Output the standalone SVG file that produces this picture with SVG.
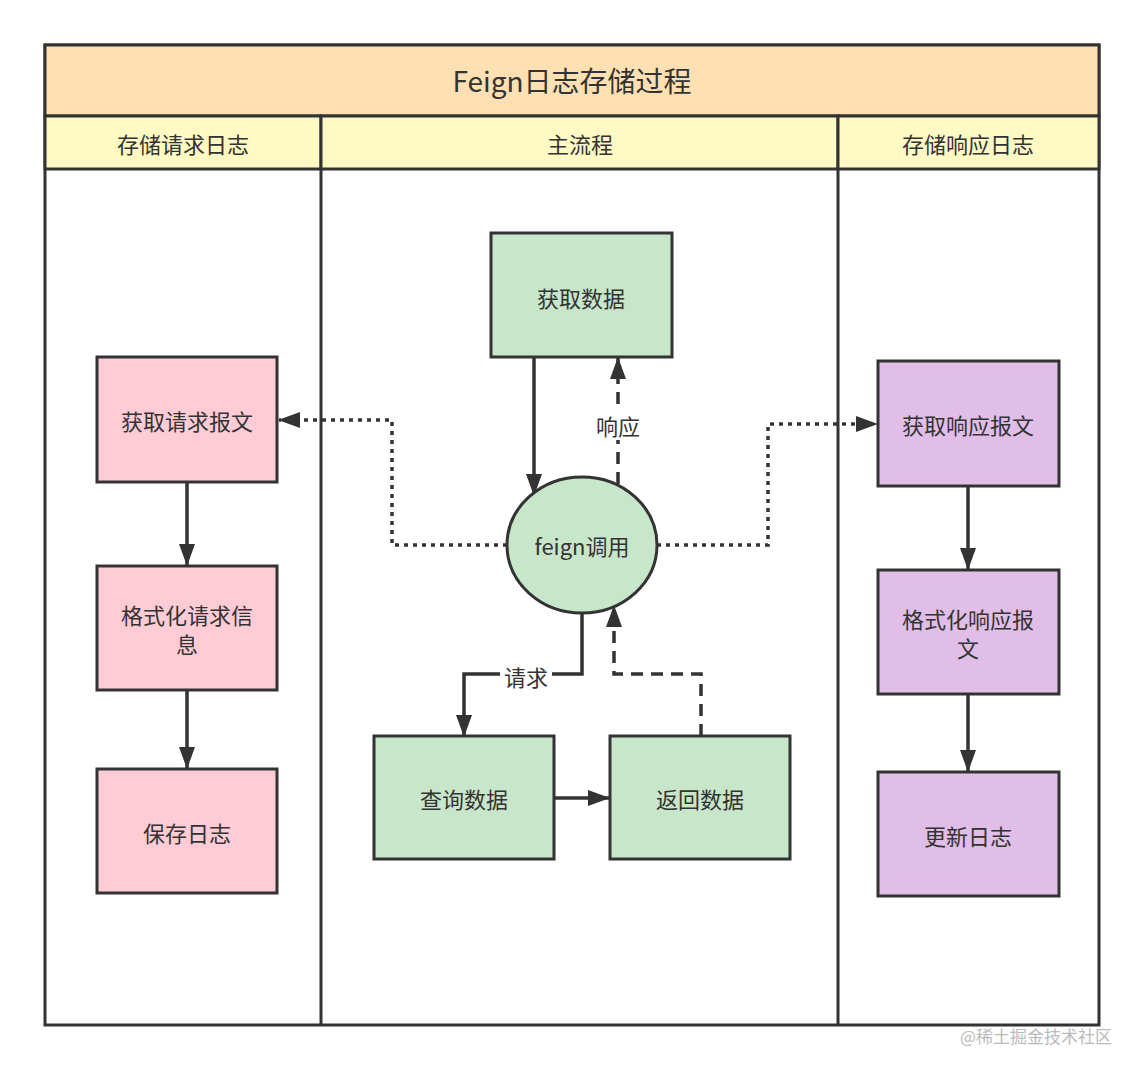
<svg xmlns="http://www.w3.org/2000/svg" width="1144" height="1073" viewBox="0 0 1144 1073">
<style>
text{font-family:"Noto Sans CJK SC","Noto Sans",sans-serif;fill:#333;text-anchor:middle;dominant-baseline:central}
.n{stroke:#333;stroke-width:3}
.g{fill:#c8e6c9}.p{fill:#ffccd5}.v{fill:#e1bee7}
.t{font-size:22px}
.c{fill:none;stroke:#333;stroke-width:3.5}
.dot{stroke-dasharray:4 5}
.dash{stroke-dasharray:12 8}
</style>
<defs>
<marker id="b" viewBox="0 0 22 18" refX="21" refY="9" markerWidth="22" markerHeight="18" orient="auto" markerUnits="userSpaceOnUse"><path d="M0,1L22,9L0,17z" fill="#333"/></marker></defs>
<rect width="1144" height="1073" fill="#fff"/>
<g id="pool">
<rect x="45" y="45" width="1054" height="980" fill="#fff" class="n"/>
<rect x="45" y="45" width="1054" height="71" fill="#ffe0b2" class="n"/>
<text x="572" y="80" font-size="28">Feign日志存储过程</text>
<rect x="45" y="116" width="276" height="53" fill="#fff9c4" class="n"/>
<rect x="321" y="116" width="517" height="53" fill="#fff9c4" class="n"/>
<rect x="838" y="116" width="261" height="53" fill="#fff9c4" class="n"/>
<line x1="321" y1="169" x2="321" y2="1025" class="n"/>
<line x1="838" y1="169" x2="838" y2="1025" class="n"/>
<text x="183" y="143" class="t">存储请求日志</text>
<text x="580" y="143" class="t">主流程</text>
<text x="968" y="143" class="t">存储响应日志</text>
</g>
<g id="connectors">
<path d="M534,358V495" class="c" marker-end="url(#b)"/>
<path d="M618,484V358" class="c dash" marker-end="url(#b)"/>
<path d="M582,613V674H464V736" class="c" marker-end="url(#b)"/>
<path d="M555,798H609" class="c" marker-end="url(#b)"/>
<path d="M701,736V674H614V606" class="c dash" marker-end="url(#b)"/>
<path d="M507,545H392V420H279" class="c dot" marker-end="url(#b)"/>
<path d="M657,545H768V424H877" class="c dot" marker-end="url(#b)"/>
<path d="M187,482V565" class="c" marker-end="url(#b)"/>
<path d="M187,690V768" class="c" marker-end="url(#b)"/>
<path d="M968,486V569" class="c" marker-end="url(#b)"/>
<path d="M968,694V771" class="c" marker-end="url(#b)"/>
<rect x="592" y="410" width="52" height="30" fill="#fff"/>
<text x="618" y="425" class="t">响应</text>
<rect x="500" y="662" width="52" height="28" fill="#fff"/>
<text x="526" y="676" class="t">请求</text>
</g>
<g id="n1"><rect x="491" y="233" width="181" height="124" class="n g"/><text x="581" y="297" class="t">获取数据</text></g>
<g id="n2"><ellipse cx="582" cy="545" rx="75" ry="68" class="n g"/><text x="582" y="545" class="t">feign调用</text></g>
<g id="n3"><rect x="374" y="736" width="180" height="123" class="n g"/><text x="464" y="798" class="t">查询数据</text></g>
<g id="n4"><rect x="610" y="736" width="180" height="123" class="n g"/><text x="700" y="798" class="t">返回数据</text></g>
<g id="n5"><rect x="97" y="357" width="180" height="125" class="n p"/><text x="187" y="420" class="t">获取请求报文</text></g>
<g id="n6"><rect x="97" y="566" width="180" height="124" class="n p"/><text x="187" y="614" class="t">格式化请求信</text><text x="187" y="643" class="t">息</text></g>
<g id="n7"><rect x="97" y="769" width="180" height="124" class="n p"/><text x="187" y="832" class="t">保存日志</text></g>
<g id="n8"><rect x="878" y="361" width="181" height="125" class="n v"/><text x="968" y="424" class="t">获取响应报文</text></g>
<g id="n9"><rect x="878" y="570" width="181" height="124" class="n v"/><text x="968" y="618" class="t">格式化响应报</text><text x="968" y="647" class="t">文</text></g>
<g id="n10"><rect x="878" y="772" width="181" height="124" class="n v"/><text x="968" y="835" class="t">更新日志</text></g>
<text x="1036" y="1035" font-size="17" style="fill:#bbb">@稀土掘金技术社区</text>
</svg>
